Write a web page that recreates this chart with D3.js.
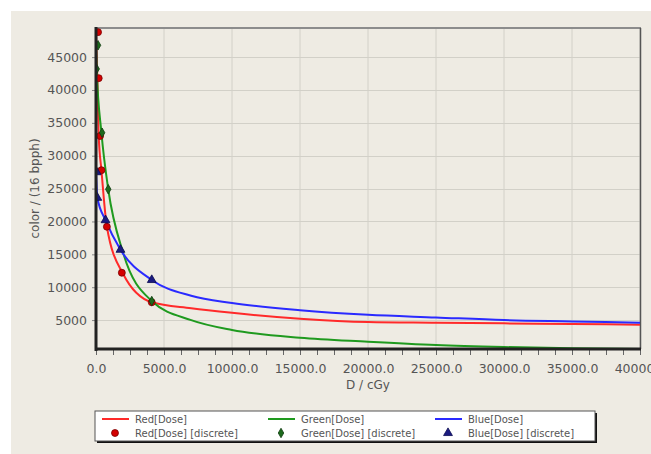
<!DOCTYPE html>
<html><head><meta charset="utf-8">
<script src="https://cdn.jsdelivr.net/npm/d3@7"></script>
<style>body{margin:0;background:#fff;}svg{display:block;font-family:"DejaVu Sans",sans-serif;}</style>
</head><body><svg id="c" width="651" height="454"></svg>
<script>
// ---- data ----
const xTicks = [0,5000,10000,15000,20000,25000,30000,35000,40000];
const yTicks = [5000,10000,15000,20000,25000,30000,35000,40000,45000];
const redCurve   = [[0,49000],[100,41800],[200,33000],[400,27800],[800,19200],[2000,12000],[4100,7700],[7000,6800],[10000,6100],[15000,5200],[20000,4700],[25000,4600],[30000,4500],[35000,4400],[40000,4300]];
const greenCurve = [[0,47500],[50,43200],[400,33500],[900,24900],[2000,15200],[4100,7900],[7000,5000],[10000,3500],[15000,2300],[20000,1700],[25000,1200],[30000,900],[35000,700],[40000,600]];
const blueCurve  = [[0,27500],[100,23600],[700,20200],[1800,15700],[4100,11100],[7000,8700],[10000,7600],[15000,6500],[20000,5800],[25000,5400],[30000,5000],[35000,4800],[40000,4600]];
const redPts   = [[150,48800],[200,41800],[300,33000],[400,27800],[800,19200],[1900,12200],[4100,7700]];
const greenPts = [[150,46800],[50,43200],[450,33500],[900,24900],[4100,7900]];
const bluePts  = [[50,27500],[100,23600],[700,20200],[1800,15700],[4100,11100]];
const legendLabels = ["Red[Dose]","Green[Dose]","Blue[Dose]","Red[Dose] [discrete]","Green[Dose] [discrete]","Blue[Dose] [discrete]"];

const svg = d3.select("#c");
svg.append("rect").attr("x",11).attr("y",11).attr("width",640).attr("height",443).attr("fill","#EEEBE3");

const L=96, R=640, T=28, B=349;
const x = d3.scaleLinear().domain([0,40000]).range([L,R]);
const y = d3.scaleLinear().domain([600,49430]).range([B,T]);

// grid
const g = svg.append("g");
g.selectAll("line.vg").data(xTicks.slice(1)).join("line")
  .attr("x1",d=>x(d)).attr("x2",d=>x(d)).attr("y1",T).attr("y2",B)
  .attr("stroke","#D2D0C8").attr("stroke-width",1);
g.selectAll("line.hg").data(yTicks).join("line")
  .attr("y1",d=>Math.round(y(d))+0.5).attr("y2",d=>Math.round(y(d))+0.5).attr("x1",L).attr("x2",R)
  .attr("stroke","#D2D0C8").attr("stroke-width",1);

// borders
svg.append("line").attr("x1",L).attr("x2",R+1).attr("y1",T).attr("y2",T).attr("stroke","#8C8C8C").attr("stroke-width",2);
svg.append("line").attr("x1",R+0.5).attr("x2",R+0.5).attr("y1",T).attr("y2",B).attr("stroke","#555").attr("stroke-width",1.5);

// axes
const xAxis = d3.axisBottom(x).tickValues(d3.range(0,40001,1250)).tickSize(5).tickFormat("");
const xa = svg.append("g").attr("transform",`translate(0,${B+1})`).call(xAxis);
xa.select(".domain").remove();
xa.selectAll(".tick line").attr("stroke","#666");
const xl = svg.append("g").attr("transform",`translate(0,${B})`).call(d3.axisBottom(x).tickValues(xTicks).tickSize(0).tickFormat(d3.format(".1f")));
xl.select(".domain").remove();
xl.selectAll("text").attr("dy",0).attr("y",24).attr("fill","#555").style("font-size","12.5px").style("font-family","DejaVu Sans");

const yl = svg.append("g").attr("transform",`translate(${L},0)`).call(d3.axisLeft(y).tickValues(yTicks).tickSize(4).tickPadding(5).tickFormat(d3.format("d")));
yl.select(".domain").remove();
yl.selectAll(".tick line").attr("stroke","#888");
yl.selectAll("text").attr("fill","#555").style("font-size","12.5px").style("font-family","DejaVu Sans");

// clip + curves
svg.append("clipPath").attr("id","pc").append("rect").attr("x",L).attr("y",T).attr("width",R-L).attr("height",B-T);
const plot = svg.append("g").attr("clip-path","url(#pc)");
const line = d3.line().x(d=>x(d[0])).y(d=>y(d[1])).curve(d3.curveMonotoneX);
const series = [
  {c:redCurve, p:redPts, col:"#FF2A2A", mk:"#D40000", ms:"#7A0000", sym:d3.symbolCircle, size:38},
  {c:greenCurve, p:greenPts, col:"#1F9A1F", mk:"#1C6A1C", ms:"#0E3A0E", sym:d3.symbolDiamond, size:26},
  {c:blueCurve, p:bluePts, col:"#2A2AFF", mk:"#1A1A80", ms:"#0A0A50", sym:d3.symbolTriangle, size:34}
];
series.forEach(s=>{
  plot.append("path").datum(s.c).attr("d",line).attr("fill","none").attr("stroke",s.col).attr("stroke-width",2);
});
series.forEach(s=>{
  plot.selectAll(null).data(s.p).join("path")
    .attr("transform",d=>`translate(${x(d[0])},${y(d[1])})`)
    .attr("d",d3.symbol().type(s.sym).size(s.size)).attr("fill",s.mk).attr("stroke",s.ms).attr("stroke-width",0.8);
});

// axis lines (thick black)
svg.append("line").attr("x1",L).attr("x2",L).attr("y1",T-1).attr("y2",B+2).attr("stroke","#222").attr("stroke-width",3);
svg.append("line").attr("x1",L-1).attr("x2",R+1).attr("y1",B).attr("y2",B).attr("stroke","#222").attr("stroke-width",3);

// titles
svg.append("text").attr("x",(L+R)/2).attr("y",389).attr("text-anchor","middle").attr("fill","#555").style("font-size","12px").text("D / cGy");
svg.append("text").attr("transform",`translate(39,${(T+B)/2}) rotate(-90)`).attr("text-anchor","middle").attr("fill","#555").style("font-size","12px").text("color / (16 bpph)");

// legend
svg.append("rect").attr("x",97).attr("y",413).attr("width",500).attr("height",30).attr("fill","#111");
svg.append("rect").attr("x",95).attr("y",411).attr("width",500).attr("height",30).attr("fill","#fff").attr("stroke","#555").attr("stroke-width",1);
const cols = [102,268,435];
series.forEach((s,i)=>{
  const cx = cols[i];
  svg.append("line").attr("x1",cx).attr("x2",cx+27).attr("y1",419).attr("y2",419).attr("stroke",s.col).attr("stroke-width",2);
  svg.append("text").attr("x",cx+33).attr("y",422.5).attr("fill","#555").style("font-size","10px").text(legendLabels[i]);
  svg.append("path").attr("transform",`translate(${cx+13},433)`).attr("d",d3.symbol().type(s.sym).size(s.size)).attr("fill",s.mk).attr("stroke",s.ms).attr("stroke-width",0.8);
  svg.append("text").attr("x",cx+33).attr("y",436.5).attr("fill","#555").style("font-size","10px").text(legendLabels[i+3]);
});
</script></body></html>
